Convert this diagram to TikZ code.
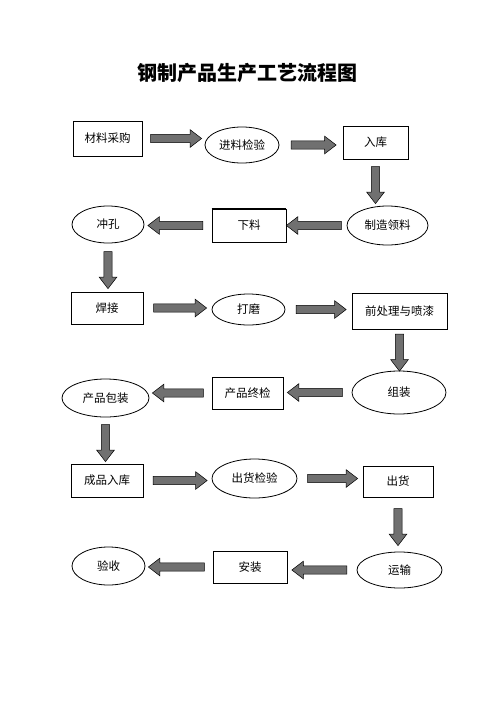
\documentclass[tikz,border=0pt]{standalone}
\usepackage{fontspec}
\setmainfont{Noto Sans CJK SC}
\usetikzlibrary{shapes.geometric, shapes.arrows}
\definecolor{arrowgray}{RGB}{112,112,112}
\tikzstyle{box} = [rectangle, draw, fill=white, line width=0.8pt, inner sep=0pt,
                 font=\fontsize{11.5}{14}\selectfont]
\tikzstyle{oval} = [ellipse, draw, fill=white, line width=0.8pt, inner sep=0pt,
                 font=\fontsize{11.5}{14}\selectfont]
\tikzstyle{barrow} = [single arrow, draw, fill=arrowgray, line width=0.5pt,
                 inner xsep=0pt, inner ysep=3.8pt, single arrow head extend=4.7pt,
                 single arrow tip angle=75, sloped, allow upside down]

\begin{document}
\begin{tikzpicture}[x=1pt, y=-1pt]

\useasboundingbox [fill=white] (0,0) rectangle (496,702);

\node [font=\fontsize{20}{24}\selectfont\bfseries] at (247.5,73) (title) {钢制产品生产工艺流程图};

% row 1
\node [box, minimum width=69pt, minimum height=35pt] at (107.5,138.5) (buy) {材料采购};
\node [oval, minimum width=74pt, minimum height=36pt] at (242,145) (inspect) {进料检验};
\node [box, minimum width=65pt, minimum height=33pt] at (375.5,142.5) (store) {入库};

% row 2
\node [oval, minimum width=81pt, minimum height=39pt] at (387.5,225.5) (pick) {制造领料};
\node [box, minimum width=74pt, minimum height=33pt] at (249,225.5) (cut) {下料};
\node [oval, minimum width=72pt, minimum height=37pt] at (108,224.5) (punch) {冲孔};
\draw [line width=1.6pt] (cut.north west) -- (cut.north east);

% row 3
\node [box, minimum width=72pt, minimum height=32pt] at (107,308) (weld) {焊接};
\node [oval, minimum width=73pt, minimum height=31pt] at (248.5,309.5) (grind) {打磨};
\node [box, minimum width=95pt, minimum height=36pt] at (399.5,311) (paint) {前处理与喷漆};

% row 4
\node [oval, minimum width=94pt, minimum height=43pt] at (399,392.5) (assemble) {组装};
\node [box, minimum width=71pt, minimum height=32pt] at (247.5,393) (final) {产品终检};
\node [oval, minimum width=87pt, minimum height=38pt] at (105.5,398) (pack) {产品包装};

% row 5
\node [box, minimum width=72pt, minimum height=33pt] at (107,480.5) (stock) {成品入库};
\node [oval, minimum width=85pt, minimum height=39pt] at (254.5,478.5) (shipcheck) {出货检验};
\node [box, minimum width=70pt, minimum height=31pt] at (398,481.5) (ship) {出货};

% row 6
\node [oval, minimum width=85pt, minimum height=36pt] at (399.5,570) (transport) {运输};
\node [box, minimum width=74pt, minimum height=32pt] at (250,567) (install) {安装};
\node [oval, minimum width=73pt, minimum height=38pt] at (108.5,566) (accept) {验收};

% arrows to the right
\foreach \a/\b/\len in {buy/inspect/51, inspect/store/45, weld/grind/53,
                        grind/paint/50, stock/shipcheck/54, shipcheck/ship/50}
	\path (\a.east) -- node [barrow, minimum height=\len pt] {} (\a.east -| \b.west);

% arrows to the left
\foreach \a/\b/\len in {pick/cut/55, cut/punch/55, assemble/final/55,
                        final/pack/51, transport/install/55, install/accept/56}
	\path (\a.west) -- node [barrow, minimum height=\len pt] {} (\a.west -| \b.east);

% arrows down
\foreach \a/\b in {store/pick, punch/weld, paint/assemble, pack/stock, ship/transport}
	\path (\a.south) -- node [barrow, minimum height=37pt] {} (\a.south |- \b.north);

\end{tikzpicture}
\end{document}
